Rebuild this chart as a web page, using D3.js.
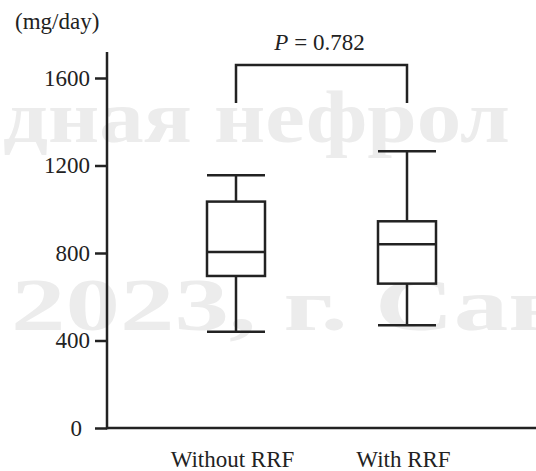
<!DOCTYPE html>
<html>
<head>
<meta charset="utf-8">
<script src="https://cdn.jsdelivr.net/npm/d3@7"></script>
<style>
  html, body { margin: 0; padding: 0; background: #fff; }
  svg { display: block; }
</style>
</head>
<body>
<script>
// Urine output by group (mg/day): whisker min, Q1, median, Q3, whisker max
const groups = ["Without RRF", "With RRF"];
const whiskerLow = [440, 470];
const q1 = [695, 660];
const median = [805, 840];
const q3 = [1035, 945];
const whiskerHigh = [1155, 1265];
const yTicks = [0, 400, 800, 1200, 1600];
const unitLabel = "(mg/day)";
const pLabel = "0.782";
const watermark = ["дная нефрол", "2023, г. Сан"];

const W = 536, H = 471;
const ink = "#222";
const serif = "'Liberation Serif', 'Times New Roman', serif";
const fs = 23;

const svg = d3.select("body").append("svg")
  .attr("width", W).attr("height", H)
  .style("font-family", serif);

// faint background watermark
const wm = svg.append("g")
  .attr("fill", "#ececec")
  .attr("font-weight", "bold")
  .attr("font-size", 74);
wm.append("text").attr("x", 3).attr("y", 142)
  .attr("textLength", 507).attr("lengthAdjust", "spacingAndGlyphs")
  .style("font-family", serif)
  .text(watermark[0]);
wm.append("text").attr("x", 11).attr("y", 330)
  .attr("textLength", 560).attr("lengthAdjust", "spacingAndGlyphs")
  .style("font-family", serif)
  .text(watermark[1]);

const y = d3.scaleLinear().domain([0, 1600]).range([428, 78]);
const x = d3.scalePoint().domain(groups).range([236, 407]);
const boxW = 58;

// y axis
const yAxis = svg.append("g")
  .attr("transform", "translate(107,0)")
  .call(d3.axisLeft(y).tickValues(yTicks).tickFormat(d3.format("d"))
    .tickSize(12).tickPadding(5).tickSizeOuter(0))
  .call(g => g.select(".domain").remove());
yAxis.selectAll(".tick line").attr("stroke", ink).attr("stroke-width", 2.5);
yAxis.selectAll(".tick text")
  .attr("fill", ink)
  .attr("font-size", fs)
  .style("font-family", serif)
  .attr("dx", d => d === 0 ? -8 : 0);

svg.append("line")
  .attr("x1", 107).attr("x2", 107)
  .attr("y1", 52).attr("y2", y(0) + 1.25)
  .attr("stroke", ink).attr("stroke-width", 2.5);

// x axis
svg.append("line")
  .attr("x1", 107).attr("x2", W)
  .attr("y1", y(0)).attr("y2", y(0))
  .attr("stroke", ink).attr("stroke-width", 2.5);

const xAxis = svg.append("g")
  .attr("transform", `translate(0,${y(0)})`)
  .call(d3.axisBottom(x).tickSize(0).tickPadding(23))
  .call(g => g.select(".domain").remove());
xAxis.selectAll(".tick text")
  .attr("fill", ink)
  .attr("font-size", fs)
  .style("font-family", serif)
  .attr("dx", -4);

svg.append("text")
  .attr("x", 15).attr("y", 29)
  .attr("fill", ink).attr("font-size", fs)
  .style("font-family", serif)
  .text(unitLabel);

// box plots
const boxes = svg.append("g")
  .attr("stroke", ink).attr("stroke-width", 2.5).attr("fill", "none");

groups.forEach((gname, i) => {
  const cx = x(gname);
  const g = boxes.append("g");
  g.append("line").attr("x1", cx).attr("x2", cx)
    .attr("y1", y(whiskerHigh[i])).attr("y2", y(q3[i]));
  g.append("line").attr("x1", cx).attr("x2", cx)
    .attr("y1", y(q1[i])).attr("y2", y(whiskerLow[i]));
  g.append("line").attr("x1", cx - boxW / 2).attr("x2", cx + boxW / 2)
    .attr("y1", y(whiskerHigh[i])).attr("y2", y(whiskerHigh[i]));
  g.append("line").attr("x1", cx - boxW / 2).attr("x2", cx + boxW / 2)
    .attr("y1", y(whiskerLow[i])).attr("y2", y(whiskerLow[i]));
  g.append("rect")
    .attr("x", cx - boxW / 2).attr("width", boxW)
    .attr("y", y(q3[i])).attr("height", y(q1[i]) - y(q3[i]))
    .attr("fill", "#fff");
  g.append("line").attr("x1", cx - boxW / 2).attr("x2", cx + boxW / 2)
    .attr("y1", y(median[i])).attr("y2", y(median[i]));
});

// significance bracket
const bTop = 65, bLeg = 103;
svg.append("path")
  .attr("d", `M${x(groups[0])},${bLeg}V${bTop}H${x(groups[1])}V${bLeg}`)
  .attr("fill", "none").attr("stroke", ink).attr("stroke-width", 2.5);

const pt = svg.append("text")
  .attr("x", (x(groups[0]) + x(groups[1])) / 2 - 2)
  .attr("y", 50)
  .attr("text-anchor", "middle")
  .style("font-family", serif)
  .attr("fill", ink).attr("font-size", fs);
pt.append("tspan").attr("font-style", "italic").text("P");
pt.append("tspan").text(" = " + pLabel);
</script>
</body>
</html>
